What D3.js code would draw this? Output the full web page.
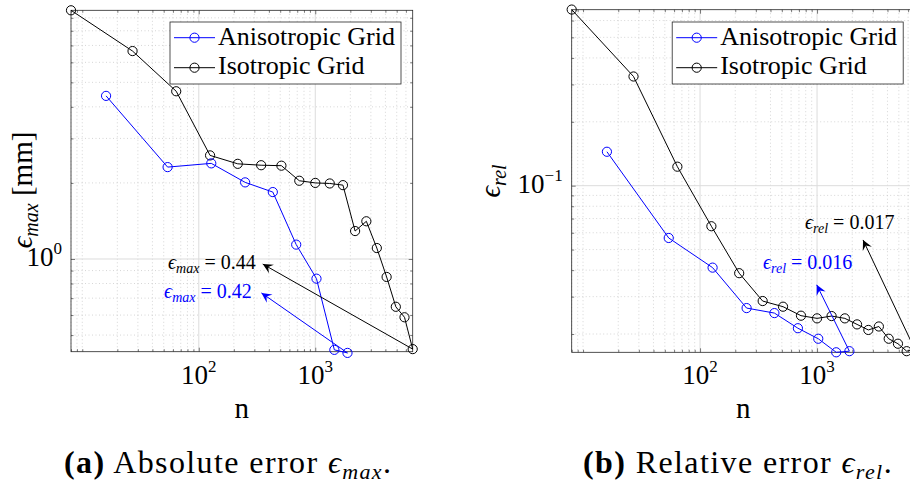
<!DOCTYPE html>
<html><head><meta charset="utf-8">
<script src="https://cdn.jsdelivr.net/npm/d3@7"></script>
<style>
body{margin:0;background:#fff}
svg{display:block}
</style>
</head><body>
<svg id="c" width="910" height="488" font-family="'Liberation Serif'"></svg>
<script>
// ---------- data ----------
const seriesNames = ["Anisotropic Grid", "Isotropic Grid"];
const nIso = [8, 27, 64, 125, 216, 343, 512, 729, 1000, 1331, 1728, 2197, 2744, 3375, 4096, 4913, 5832, 6859];
const nAni = [16, 54, 128, 250, 432, 686, 1024, 1458, 1890];
const eMaxIso = [9.64, 6.65, 4.61, 2.57, 2.38, 2.35, 2.34, 2.04, 2.00, 1.99, 1.96, 1.29, 1.41, 1.105, 0.849, 0.647, 0.588, 0.44];
const eMaxAni = [4.42, 2.31, 2.39, 2.01, 1.84, 1.14, 0.836, 0.437, 0.425];
const eRelIso = [0.676, 0.327, 0.1229, 0.0644, 0.0387, 0.0286, 0.0269, 0.0244, 0.0237, 0.0243, 0.0237, 0.0222, 0.0209, 0.0217, 0.0190, 0.0180, 0.0166, 0.0169];
const eRelAni = [0.1445, 0.0567, 0.0411, 0.0265, 0.0251, 0.0213, 0.0190, 0.0164, 0.0166];
const xTickValues = [100, 1000];
const xTickExp = ["2", "3"];
const yTickMax = [1], yTickMaxExp = ["0"];
const yTickRel = [0.1], yTickRelExp = ["\u22121"];
const xDomain = [8, 6859];
const yDomainMax = [0.4297, 9.64];
const yDomainRel = [0.0164, 0.675];
const finalMaxIso = "0.44", finalMaxAni = "0.42";
const finalRelIso = "0.017", finalRelAni = "0.016";

// ---------- layout ----------
const FONT = "'Liberation Serif', 'DejaVu Serif'";
const svg = d3.select("#c");
const BLUE = "#0000ff", BLACK = "#000000", AX = "#262626";

const panels = [
  {l:71, r:412.7, t:10.3, b:351.7, yDom:yDomainMax, yT:yTickMax, yE:yTickMaxExp, iso:eMaxIso, ani:eMaxAni,
   ylabel:["max"," [mm]"], ylx:32, yly:190,
   ann:[{txt:finalMaxIso, sub:"max", color:BLACK, anchor:"end", tx:308, ty:0.909, hx:354, hy:0.955, fromIso:true},
        {txt:finalMaxAni, sub:"max", color:BLUE, anchor:"end", tx:285, ty:0.699, hx:345, hy:0.734, fromIso:false}],
   caption:{x:64, b:"(a)", t:" Absolute error ", sub:"max"}},
  {l:571.7, r:914.9, t:9.7, b:352.3, yDom:yDomainRel, yT:yTickRel, yE:yTickRelExp, iso:eRelIso, ani:eRelAni,
   ylabel:["rel",""], ylx:500, yly:181,
   ann:[{txt:finalRelIso, sub:"rel", color:BLACK, anchor:"start", tx:789, ty:0.0623, hx:2472, hy:0.0555, fromIso:true},
        {txt:finalRelAni, sub:"rel", color:BLUE, anchor:"start", tx:345, ty:0.0404, hx:993, hy:0.0341, fromIso:false}],
   caption:{x:583, b:"(b)", t:" Relative error ", sub:"rel"}}
];

function minorTicks(dom){
  const out=[];
  const lo=Math.floor(Math.log10(dom[0])), hi=Math.ceil(Math.log10(dom[1]));
  for(let e=lo;e<=hi;e++) for(let k=1;k<=9;k++){
    const v=k*Math.pow(10,e);
    if(v>=dom[0]*0.999 && v<=dom[1]*1.001) out.push(v);
  }
  return out;
}

function arrowHead(g, x1,y1,x2,y2,color){
  const L=10, W=5, ang=Math.atan2(y2-y1,x2-x1);
  const c=Math.cos(ang), s=Math.sin(ang);
  const pt=(a,b)=>[x2 + a*c - b*s, y2 + a*s + b*c];
  const p=[pt(0,0), pt(-L,W), pt(-0.62*L,0), pt(-L,-W)];
  g.append("path").attr("d","M"+p.map(q=>q.join(",")).join("L")+"Z").attr("fill",color).attr("stroke","none");
}
function txt(g){ return g.append("text").attr("font-family",FONT).attr("fill","#000"); }

panels.forEach(P=>{
  const x=d3.scaleLog().domain(xDomain).range([P.l,P.r]);
  const y=d3.scaleLog().domain(P.yDom).range([P.b,P.t]);
  const g=svg.append("g");

  const xMin=minorTicks(xDomain).filter(v=>!xTickValues.includes(v));
  const yMin=minorTicks(P.yDom).filter(v=>!P.yT.includes(v));
  g.selectAll(null).data(xMin).enter().append("line")
    .attr("x1",d=>x(d)).attr("x2",d=>x(d)).attr("y1",P.t).attr("y2",P.b)
    .attr("stroke","#c4c4c4").attr("stroke-width",0.7).attr("stroke-dasharray","1,2.5");
  g.selectAll(null).data(yMin).enter().append("line")
    .attr("y1",d=>y(d)).attr("y2",d=>y(d)).attr("x1",P.l).attr("x2",P.r)
    .attr("stroke","#c4c4c4").attr("stroke-width",0.7).attr("stroke-dasharray","1,2.5");
  g.selectAll(null).data(xTickValues).enter().append("line")
    .attr("x1",d=>x(d)).attr("x2",d=>x(d)).attr("y1",P.t).attr("y2",P.b)
    .attr("stroke","#dcdcdc").attr("stroke-width",1);
  g.selectAll(null).data(P.yT).enter().append("line")
    .attr("y1",d=>y(d)).attr("y2",d=>y(d)).attr("x1",P.l).attr("x2",P.r)
    .attr("stroke","#dcdcdc").attr("stroke-width",1);

  const tick=(axis, tr, vals, len)=>{
    const a=g.append("g").attr("transform",tr).call(axis.tickValues(vals).tickSize(len).tickFormat(""));
    a.select(".domain").remove();
    a.selectAll("line").attr("stroke",AX).attr("stroke-width",0.6);
  };
  tick(d3.axisTop(x), `translate(0,${P.b})`, xTickValues, 4);
  tick(d3.axisTop(x), `translate(0,${P.b})`, xMin, 2.5);
  tick(d3.axisBottom(x), `translate(0,${P.t})`, xTickValues, 4);
  tick(d3.axisBottom(x), `translate(0,${P.t})`, xMin, 2.5);
  tick(d3.axisRight(y), `translate(${P.l},0)`, P.yT, 4);
  tick(d3.axisRight(y), `translate(${P.l},0)`, yMin, 2.5);
  tick(d3.axisLeft(y), `translate(${P.r},0)`, P.yT, 4);
  tick(d3.axisLeft(y), `translate(${P.r},0)`, yMin, 2.5);

  g.append("rect").attr("x",P.l).attr("y",P.t).attr("width",P.r-P.l).attr("height",P.b-P.t)
    .attr("fill","none").attr("stroke",AX).attr("stroke-width",0.8);

  xTickValues.forEach((v,i)=>{
    const t=txt(g).attr("x",x(v)).attr("y",383.5).attr("text-anchor","middle").attr("font-size",27);
    t.append("tspan").text("10");
    t.append("tspan").attr("font-size",17).attr("dy",-12).text(xTickExp[i]);
  });
  P.yT.forEach((v,i)=>{
    const t=txt(g).attr("x",P.l-9).attr("y",y(v)+7.5).attr("text-anchor","end").attr("font-size",27);
    t.append("tspan").text("10");
    t.append("tspan").attr("font-size",17).attr("dy",-12).text(P.yE[i]);
  });

  txt(g).attr("x",(P.l+P.r)/2).attr("y",418).attr("text-anchor","middle").attr("font-size",29).text("n");
  const yl=txt(g).attr("transform",`translate(${P.ylx},${P.yly}) rotate(-90)`)
    .attr("text-anchor","middle").attr("font-size",29);
  yl.append("tspan").attr("font-style","italic").text("\u03f5");
  yl.append("tspan").attr("font-style","italic").attr("font-size",20).attr("dy",6).text(P.ylabel[0]);
  if(P.ylabel[1]) yl.append("tspan").attr("dy",-6).text(P.ylabel[1]);

  const line=d3.line().x(d=>x(d[0])).y(d=>y(d[1]));
  const draw=(ns,vs,color)=>{
    const pts=ns.map((n,i)=>[n,vs[i]]);
    g.append("path").attr("d",line(pts)).attr("fill","none").attr("stroke",color).attr("stroke-width",1);
    g.selectAll(null).data(pts).enter().append("circle")
      .attr("cx",d=>x(d[0])).attr("cy",d=>y(d[1])).attr("r",4.6)
      .attr("fill","none").attr("stroke",color).attr("stroke-width",1);
  };
  draw(nIso,P.iso,BLACK);
  draw(nAni,P.ani,BLUE);

  P.ann.forEach(A=>{
    const ns=A.fromIso?nIso:nAni, vs=A.fromIso?P.iso:P.ani;
    const x1=x(ns[ns.length-1]), y1=y(vs[vs.length-1]);
    const x2=x(A.hx), y2=y(A.hy);
    g.append("line").attr("x1",x1).attr("y1",y1).attr("x2",x2).attr("y2",y2)
      .attr("stroke",A.color).attr("stroke-width",1);
    arrowHead(g,x1,y1,x2,y2,A.color);
    const t=txt(g).attr("x",x(A.tx)).attr("y",y(A.ty)).attr("text-anchor",A.anchor)
      .attr("font-size",20).attr("fill",A.color);
    t.append("tspan").attr("font-style","italic").text("\u03f5");
    t.append("tspan").attr("font-style","italic").attr("font-size",14).attr("dy",4).text(A.sub);
    t.append("tspan").attr("dy",-4).text(" = "+A.txt);
  });

  const lx=P.r-11.7-231, ly=22;
  g.append("rect").attr("x",lx).attr("y",ly).attr("width",231).attr("height",62)
    .attr("fill","#fff").attr("stroke",AX).attr("stroke-width",0.8);
  [[BLUE,37.7,45],[BLACK,67.7,74]].forEach((e,i)=>{
    g.append("line").attr("x1",lx+4).attr("x2",lx+45).attr("y1",e[1]).attr("y2",e[1]).attr("stroke",e[0]).attr("stroke-width",1);
    g.append("circle").attr("cx",lx+24.5).attr("cy",e[1]).attr("r",4.6).attr("fill","none").attr("stroke",e[0]);
    txt(g).attr("x",lx+48).attr("y",e[2]).attr("font-size",26).text(seriesNames[i]);
  });

  const c=txt(svg).attr("x",P.caption.x).attr("y",473).attr("font-size",32).attr("letter-spacing",1.4);
  c.append("tspan").attr("font-weight","bold").text(P.caption.b);
  c.append("tspan").text(P.caption.t);
  c.append("tspan").attr("font-style","italic").text("\u03f5");
  c.append("tspan").attr("font-style","italic").attr("font-size",22).attr("dy",6).text(P.caption.sub);
  c.append("tspan").attr("dy",-6).text(".");
});
</script>
</body></html>
